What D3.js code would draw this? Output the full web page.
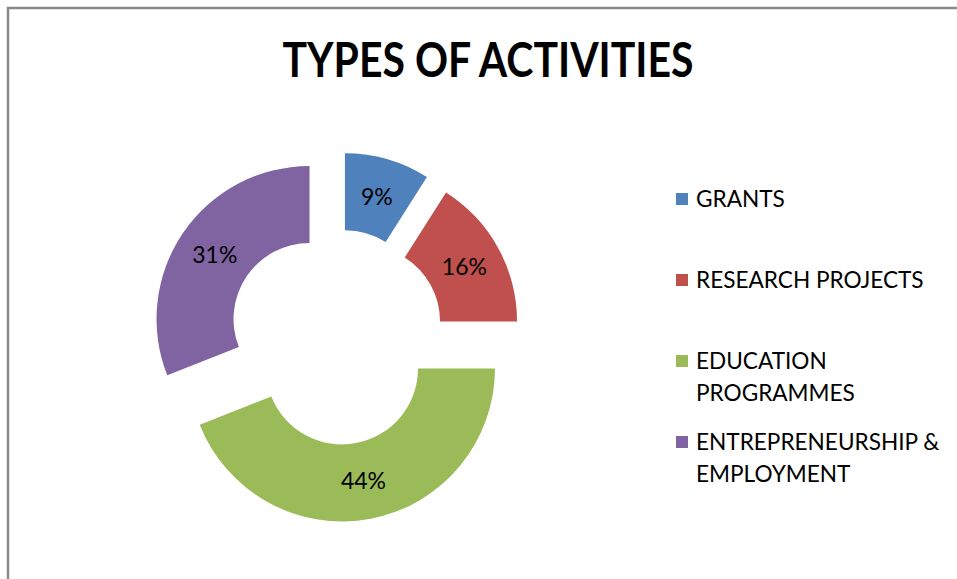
<!DOCTYPE html>
<html>
<head>
<meta charset="utf-8">
<script src="https://cdn.jsdelivr.net/npm/d3@7"></script>
<style>
  html, body { margin: 0; padding: 0; background: #fff; }
  svg { display: block; }
</style>
</head>
<body>
<svg id="chart" width="957" height="579"></svg>
<script>
// Activity shares (percent), in drawing order clockwise from 12 o'clock
const categories = ["GRANTS", "RESEARCH PROJECTS", "EDUCATION PROGRAMMES", "ENTREPRENEURSHIP & EMPLOYMENT"];
const shares = [9, 16, 44, 31];
const legendLines = [["GRANTS"], ["RESEARCH PROJECTS"], ["EDUCATION", "PROGRAMMES"], ["ENTREPRENEURSHIP &", "EMPLOYMENT"]];
const colors = ["#4F81BD", "#C0504D", "#9BBB59", "#8064A2"];
const title = "TYPES OF ACTIVITIES";

const svg = d3.select("#chart");
const font = "Lato, 'Open Sans', sans-serif";

// chart frame (top and left edges visible)
svg.append("rect")
  .attr("x", 8).attr("y", 8)
  .attr("width", 1200).attr("height", 1200)
  .attr("fill", "none")
  .attr("stroke", "#8a8a8a")
  .attr("stroke-width", 2.5);

// title
svg.append("text")
  .attr("x", 488).attr("y", 77)
  .attr("text-anchor", "middle")
  .attr("font-family", font)
  .attr("font-weight", 700)
  .attr("font-size", 47)
  .attr("textLength", 411)
  .attr("lengthAdjust", "spacingAndGlyphs")
  .attr("fill", "#000")
  .text(title);

// exploded doughnut
const cx = 336, cy = 337;
const outerR = 153, innerR = 76, explode = 32;

const pie = d3.pie().sort(null).value(d => d);
const arc = d3.arc().innerRadius(innerR).outerRadius(outerR);
const arcs = pie(shares);

const slices = svg.append("g")
  .attr("transform", `translate(${cx},${cy})`)
  .selectAll("g")
  .data(arcs)
  .join("g")
  .attr("transform", d => {
    const mid = (d.startAngle + d.endAngle) / 2;
    return `translate(${explode * Math.sin(mid)},${-explode * Math.cos(mid)})`;
  });

slices.append("path")
  .attr("d", arc)
  .attr("fill", (d, i) => colors[i]);

slices.append("text")
  .attr("transform", d => `translate(${arc.centroid(d)})`)
  .attr("dy", "0.36em")
  .attr("text-anchor", "middle")
  .attr("font-family", font)
  .attr("font-size", 23)
  .attr("fill", "#000")
  .text(d => d.data + "%");

// legend
const legendX = 676;
const baselines = [207, 288, 369, 450];
const lineGap = 32;

const legend = svg.append("g")
  .selectAll("g")
  .data(categories)
  .join("g");

legend.append("rect")
  .attr("x", legendX)
  .attr("y", (d, i) => baselines[i] - 14)
  .attr("width", 12).attr("height", 12)
  .attr("fill", (d, i) => colors[i]);

legend.append("text")
  .attr("font-family", font)
  .attr("font-size", 22.6)
  .attr("fill", "#000")
  .selectAll("tspan")
  .data((d, i) => legendLines[i].map((t, j) => ({ t, y: baselines[i] + j * lineGap })))
  .join("tspan")
  .attr("x", legendX + 20)
  .attr("y", d => d.y)
  .text(d => d.t);
</script>
</body>
</html>
